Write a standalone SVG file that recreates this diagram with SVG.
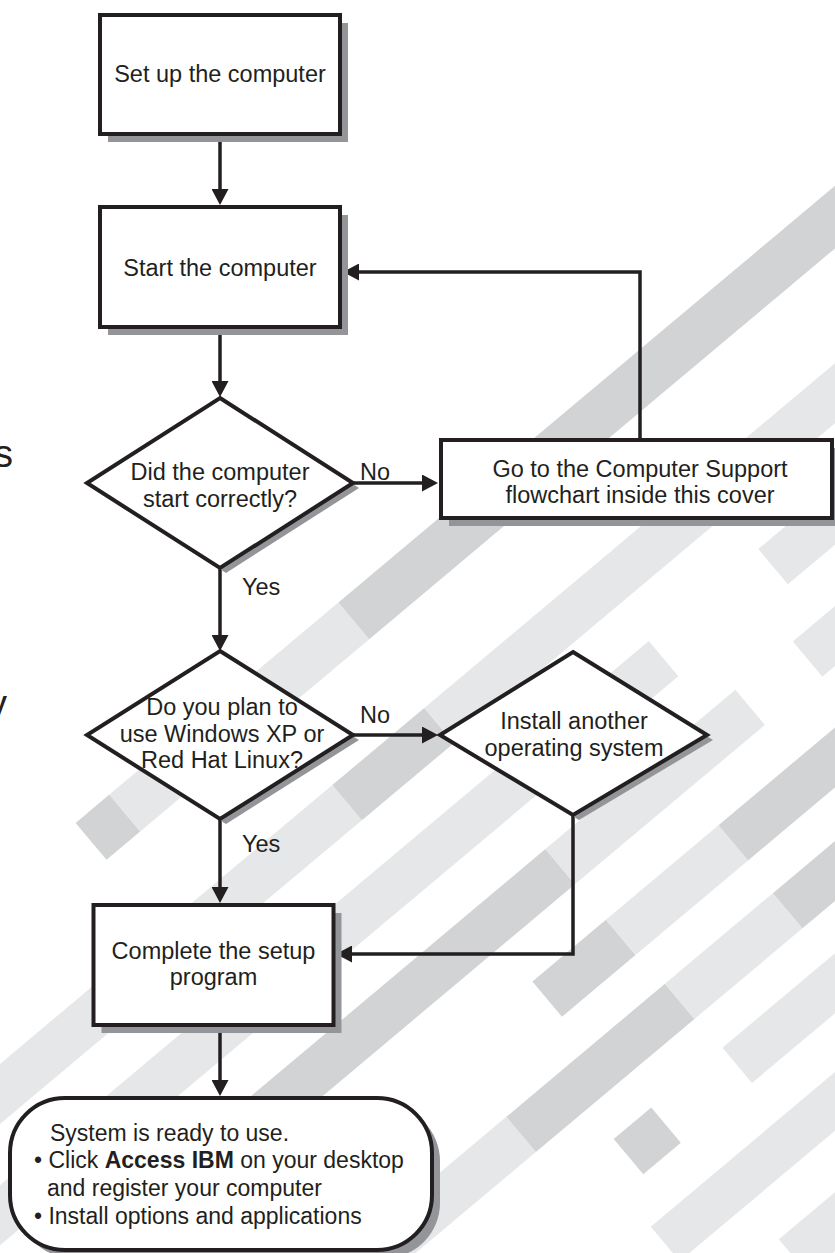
<svg xmlns="http://www.w3.org/2000/svg" width="835" height="1253" viewBox="0 0 835 1253">
<defs>
<style>
.node{fill:#ffffff;stroke:#231f20;stroke-width:4;stroke-linejoin:miter}
.shadow{fill:#939598}
.edge{fill:none;stroke:#231f20;stroke-width:3.5}
.t{font-family:"Liberation Sans",Arial,Helvetica,sans-serif;font-size:23.5px;fill:#231f20;text-anchor:middle}
.ts{font-family:"Liberation Sans",Arial,Helvetica,sans-serif;font-size:23px;fill:#231f20;text-anchor:start}
.lab{font-family:"Liberation Sans",Arial,Helvetica,sans-serif;font-size:23.5px;fill:#231f20;text-anchor:start}
.sd{fill:#d1d3d4}
.sl{fill:#e6e7e8}
</style>
<marker id="arrow" viewBox="0 0 16 17" refX="6" refY="8.5" markerWidth="16" markerHeight="17" markerUnits="userSpaceOnUse" orient="auto">
<path d="M0,0 L16,8.5 L0,17 Z" fill="#231f20"/>
</marker>
</defs>
<rect width="835" height="1253" fill="#ffffff"/>
<g id="background" transform="rotate(-40)">
<rect class="sd" x="-471" y="679" width="44" height="48"/>
<rect class="sl" x="-427" y="679" width="299" height="48"/>
<rect class="sd" x="-128" y="679" width="900" height="48"/>
<rect class="sl" x="-760" y="815" width="510" height="46"/>
<rect class="sd" x="-250" y="815" width="120" height="46"/>
<rect class="sl" x="-130" y="815" width="600" height="46"/>
<rect class="sl" x="-820" y="908" width="905" height="46"/>
<rect class="sl" x="228" y="908" width="200" height="46"/>
<rect class="sd" x="-740" y="1001" width="612" height="46"/>
<rect class="sl" x="-128" y="1001" width="248" height="46"/>
<rect class="sl" x="195" y="1001" width="100" height="46"/>
<rect class="sd" x="-223" y="1094" width="96" height="46"/>
<rect class="sl" x="-127" y="1094" width="147" height="46"/>
<rect class="sd" x="20" y="1094" width="200" height="46"/>
<rect class="sl" x="-560" y="1181" width="230" height="46"/>
<rect class="sd" x="-330" y="1181" width="207" height="46"/>
<rect class="sl" x="-123" y="1181" width="141" height="46"/>
<rect class="sd" x="18" y="1181" width="150" height="46"/>
<rect class="sd" x="-262" y="1267" width="49" height="46"/>
<rect class="sl" x="-120" y="1267" width="200" height="46"/>
<rect class="sl" x="-290" y="1358" width="250" height="45"/>
<rect class="sl" x="-200" y="1450" width="100" height="45"/>
</g>
<g id="margin-text">
<text x="-6" y="467" style="font-family:'Liberation Sans',Arial,sans-serif;font-size:38px;fill:#231f20">s</text>
<text x="-12" y="717" style="font-family:'Liberation Sans',Arial,sans-serif;font-size:38px;fill:#231f20">y</text>
</g>
<g id="connectors">
<path class="edge" d="M220,136 V195" marker-end="url(#arrow)"/>
<path class="edge" d="M220,329 V387" marker-end="url(#arrow)"/>
<path class="edge" d="M353,483 H428" marker-end="url(#arrow)"/>
<path class="edge" d="M640,438 V272 H353" marker-end="url(#arrow)"/>
<path class="edge" d="M220,568 V641" marker-end="url(#arrow)"/>
<path class="edge" d="M353,735 H428" marker-end="url(#arrow)"/>
<path class="edge" d="M220,819 V893" marker-end="url(#arrow)"/>
<path class="edge" d="M573,815 V954 H346" marker-end="url(#arrow)"/>
<path class="edge" d="M220,1027 V1086" marker-end="url(#arrow)"/>
<text class="lab" x="360" y="480">No</text>
<text class="lab" x="360" y="723">No</text>
<text class="lab" x="242" y="595">Yes</text>
<text class="lab" x="242" y="852">Yes</text>
</g>
<g id="n-setup">
<rect class="shadow" x="108" y="23" width="240" height="119"/>
<rect class="node" x="100" y="15" width="240" height="119"/>
<text class="t" x="220" y="82">Set up the computer</text>
</g>
<g id="n-start">
<rect class="shadow" x="108" y="215" width="240" height="120"/>
<rect class="node" x="100" y="207" width="240" height="120"/>
<text class="t" x="220" y="276">Start the computer</text>
</g>
<g id="n-check">
<polygon class="shadow" points="226,403 359,488 226,573 93,488"/>
<polygon class="node" points="220,398 353,483 220,568 87,483"/>
<text class="t" x="220" y="480">Did the computer</text>
<text class="t" x="220" y="507">start correctly?</text>
</g>
<g id="n-support">
<rect class="shadow" x="449" y="448" width="391" height="78"/>
<rect class="node" x="441" y="440" width="391" height="78"/>
<text class="t" x="640" y="477">Go to the Computer Support</text>
<text class="t" x="640" y="503">flowchart inside this cover</text>
</g>
<g id="n-os">
<polygon class="shadow" points="226,656 359,740 226,824 93,740"/>
<polygon class="node" points="220,651 353,735 220,819 87,735"/>
<text class="t" x="222" y="715">Do you plan to</text>
<text class="t" x="222" y="742">use Windows XP or</text>
<text class="t" x="222" y="768">Red Hat Linux?</text>
</g>
<g id="n-other">
<polygon class="shadow" points="579,657 713,740 579,820 446,740"/>
<polygon class="node" points="573,652 707,735 573,815 440,735"/>
<text class="t" x="574" y="729">Install another</text>
<text class="t" x="574" y="756">operating system</text>
</g>
<g id="n-complete">
<rect class="shadow" x="101.5" y="913" width="240" height="120"/>
<rect class="node" x="93.5" y="905" width="240" height="120"/>
<text class="t" x="213.5" y="959">Complete the setup</text>
<text class="t" x="213.5" y="985">program</text>
</g>
<g id="n-ready">
<rect class="shadow" x="18" y="1106" width="422" height="152" rx="55" ry="55"/>
<rect class="node" x="10" y="1098" width="422" height="152" rx="55" ry="55"/>
<text class="ts" x="50" y="1141">System is ready to use.</text>
<text class="ts" x="34" y="1168">• Click <tspan font-weight="bold">Access IBM</tspan> on your desktop</text>
<text class="ts" x="47" y="1196">and register your computer</text>
<text class="ts" x="34" y="1224">• Install options and applications</text>
</g>
</svg>
